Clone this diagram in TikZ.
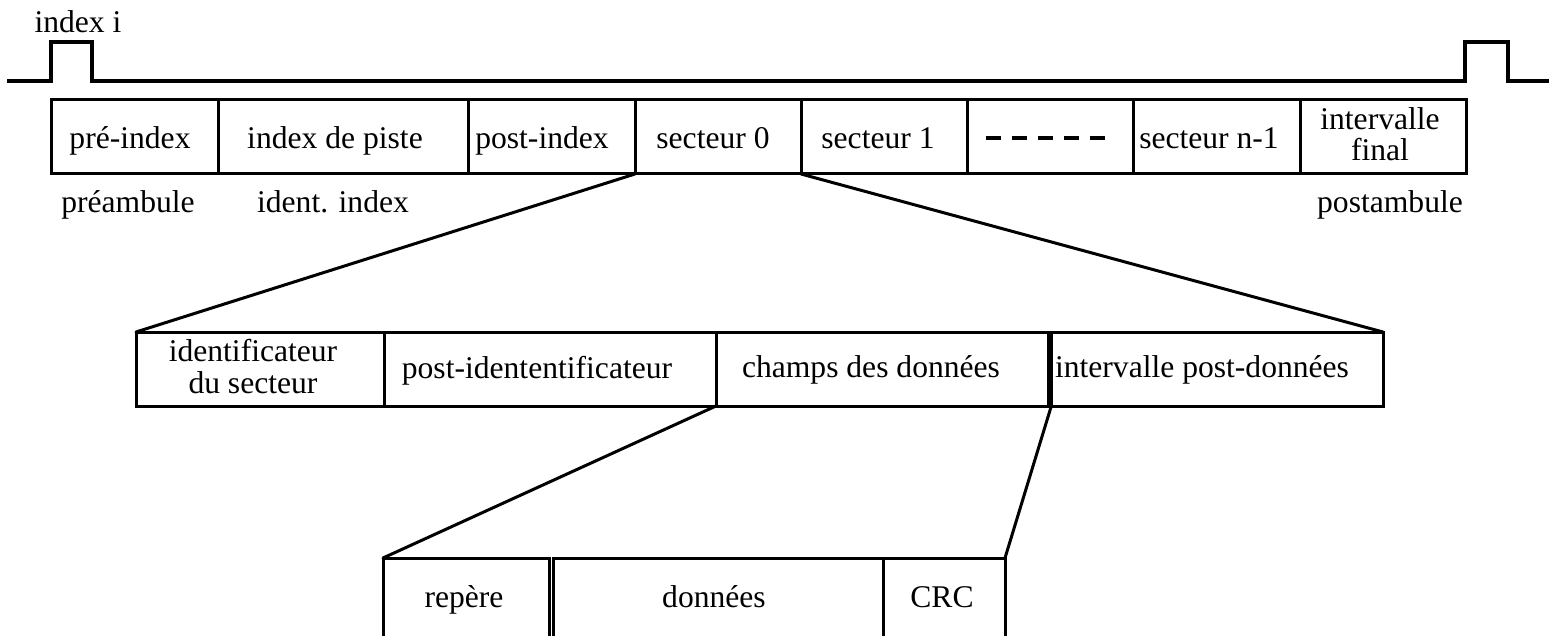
\documentclass[tikz,border=0pt]{standalone}
\usepackage{fontspec}
\setmainfont{Liberation Serif}
\usetikzlibrary{calc}
\begin{document}
\begin{tikzpicture}[x=1pt,y=-1pt,
  cell/.style={draw, line width=3pt, inner sep=0pt, outer sep=0pt,
               anchor=north west, minimum height=74pt},
  txt/.style={anchor=base, inner sep=0pt,
              font=\fontsize{31.6}{31.6}\selectfont},
  link/.style={line width=3pt, line cap=round},
  sig/.style={line width=3.2pt, line join=miter}]
\useasboundingbox (0,0) rectangle (1552,636);
\clip (0,0) rectangle (1552,636);

% index signal
\coordinate (sigA) at (7,81);
\coordinate (sigB) at (1549,81);
\draw[sig] (sigA) -- (51,81) -- (51,42) -- (92,42) -- (92,81)
  -- (1465,81) -- (1465,42) -- (1508,42) -- (1508,81) -- (sigB);
\node[txt] (idxi) at (78,33) {index i};

% track layout
\node[cell, minimum width=167pt] (pre) at (51,100) {};
\node[cell, minimum width=250pt] (pis) at (218,100) {};
\node[cell, minimum width=167pt] (poi) at (468,100) {};
\node[cell, minimum width=166pt] (s0)  at (635,100) {};
\node[cell, minimum width=166pt] (s1)  at (801,100) {};
\node[cell, minimum width=166pt] (dts) at (967,100) {};
\node[cell, minimum width=167pt] (sn)  at (1133,100) {};
\node[cell, minimum width=166pt] (fin) at (1300,100) {};

\node[txt] (tpre) at (130,148.5) {pré-index};
\node[txt] (tpis) at (335,148.5) {index de piste};
\node[txt] (tpoi) at (542,148.5) {post-index};
\node[txt] (ts0)  at (713,148.5) {secteur 0};
\node[txt] (ts1)  at (878,148.5) {secteur 1};
\node[txt] (tsn)  at (1209,148.5) {secteur n-1};
% base anchor of a two-line node sits on its last line
\node[txt, align=center] (tfin) at (1380,161) {intervalle\\final};
\draw[line width=4pt, dash pattern=on 15pt off 11pt]
  ($(dts.west)+(19,1)$) -- ($(dts.west)+(138,1)$);

\node[txt] (tpream) at (128,213) {préambule};
\node[txt] (tident) at (333,213) {ident. index};
\node[txt] (tpost)  at (1390,213) {postambule};

% sector layout
\node[cell, minimum width=248pt]   (idf) at (136,332) {};
\node[cell, minimum width=332pt]   (pid) at (384,332) {};
\node[cell, minimum width=332pt]   (cd)  at (716,332) {};
\node[cell, minimum width=331.7pt] (ipd) at (1051.3,332) {};

\node[txt, align=center] (tidf) at (253,393) {identificateur\\du secteur};
\node[txt] (tpid) at (537,378) {post-idententificateur};
\node[txt] (tcd)  at (871,377) {champs des données};
\node[txt] (tipd) at (1202,377) {intervalle post-données};

% data field layout
\node[cell, minimum width=166.5pt, minimum height=80pt] (rep) at (383,558) {};
\node[cell, minimum width=329.2pt, minimum height=80pt] (don) at (553.8,558) {};
\node[cell, minimum width=122pt,   minimum height=80pt] (crc) at (883,558) {};

\node[txt] (trep) at (464,607) {repère};
\node[txt] (tdon) at (714,607) {données};
\node[txt] (tcrc) at (942,607) {CRC};

% zoom connectors
\draw[link] (poi.south east) -- (idf.north west);
\draw[link] (s0.south east)  -- (ipd.north east);
\draw[link] (pid.south east) -- (rep.north west);
\draw[link] (ipd.south west) -- (crc.north east);
\end{tikzpicture}
\end{document}
